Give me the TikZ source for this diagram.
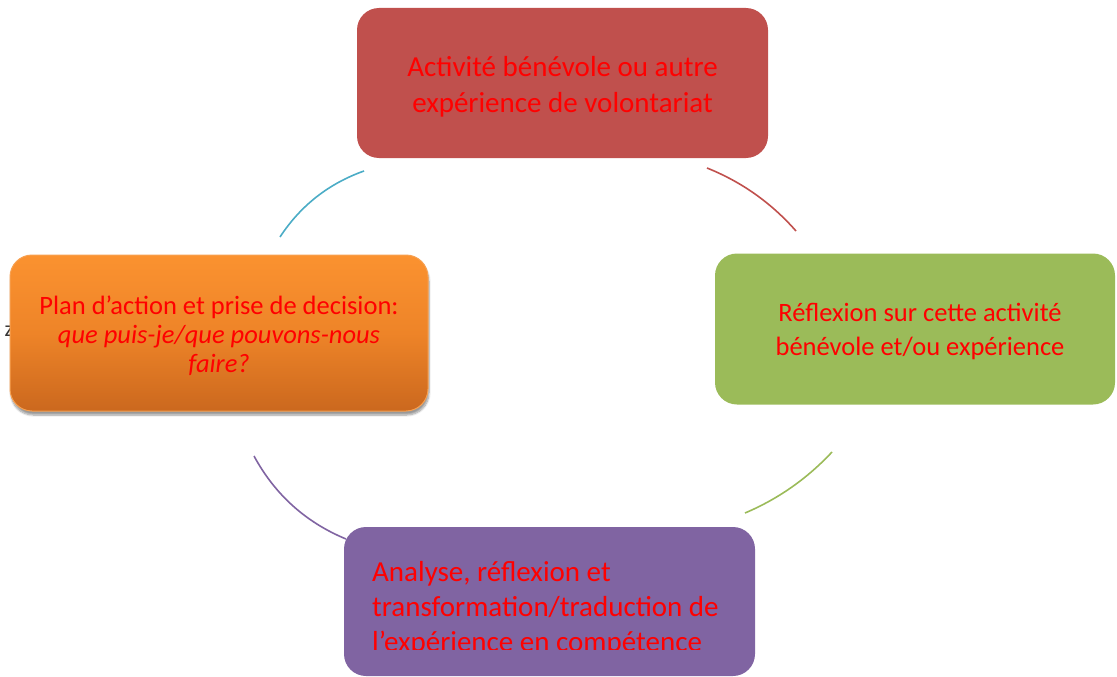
\documentclass[tikz,border=0pt]{standalone}
\usepackage{fontspec}
\setmainfont{Carlito}
\usetikzlibrary{shadows.blur}
\definecolor{txtred}{RGB}{255,0,0}
\definecolor{boxred}{RGB}{192,80,77}
\definecolor{boxgreen}{RGB}{155,187,89}
\definecolor{boxpurple}{RGB}{128,100,162}
\definecolor{arcteal}{RGB}{75,172,198}
\definecolor{orangetop}{RGB}{251,146,48}
\definecolor{orangemid}{RGB}{238,132,40}
\definecolor{orangebot}{RGB}{203,104,30}
\definecolor{orangeedge}{RGB}{247,160,80}
\begin{document}
\begin{tikzpicture}[x=1pt,y=-1pt,
  box/.style={rounded corners=22pt, inner sep=0pt},
  boxtext/.style={inner sep=0pt, text=txtred, align=center},
  arcline/.style={line width=1.6pt}]
\useasboundingbox (0,0) rectangle (1117,677);
% arc end points
\coordinate (t1) at (364,171); \coordinate (t2) at (280,237);
\coordinate (r1) at (707,168); \coordinate (r2) at (796,231);
\coordinate (g1) at (832,452); \coordinate (g2) at (745,513);
\coordinate (p1) at (254,456); \coordinate (p2) at (346,539);
\draw[arcline, arcteal] (t1) .. controls (328.6,183.6) and (300.6,205.6) .. (t2);
\draw[arcline, boxred] (r1) .. controls (741.7,181.9) and (771.3,202.9) .. (r2);
\draw[arcline, boxgreen] (g1) .. controls (807.3,478.5) and (778.3,498.9) .. (g2);
\draw[arcline, boxpurple] (p1) .. controls (274.9,494.5) and (305.5,522.2) .. (p2);
% stray letter behind the orange box
\node[text=black!80, font=\fontsize{22}{26}\selectfont, inner sep=0pt] (z) at (9,331) {z};
% boxes
\node[box, fill=boxred, minimum width=411pt, minimum height=150pt] (top) at (562.5,83) {};
\node[boxtext, font=\fontsize{29}{36}\selectfont] (toptext) at (562.5,87)
  {Activité bénévole ou autre\\expérience de volontariat};
\node[box, fill=boxgreen, minimum width=400pt, minimum height=151pt] (right) at (915,329) {};
\node[boxtext, font=\fontsize{26.5}{34}\selectfont] (righttext) at (920,331.5)
  {Réflexion sur cette activité\\bénévole et/ou expérience};
\node[box, top color=orangetop, bottom color=orangebot, middle color=orangemid,
  draw=orangeedge, line width=1pt, minimum width=418pt, minimum height=156pt,
  blur shadow={shadow xshift=1pt, shadow yshift=-4pt, shadow blur steps=8, shadow opacity=40}] (left) at (219,333) {};
\node[boxtext, font=\fontsize{26.5}{29}\selectfont] (lefttext) at (219,336)
  {Plan d’action et prise de decision:\\\itshape que puis-je/que pouvons-nous\\\itshape faire?};
\node[box, fill=boxpurple, minimum width=411pt, minimum height=149pt] (bottom) at (549.5,601.5) {};
\begin{scope}
\clip (344,527) rectangle (755,649);
\node[anchor=base west, inner sep=0pt, text=txtred, font=\fontsize{29}{35}\selectfont] (btext) at (372,581)
  {\parbox[t]{400pt}{\raggedright Analyse, réflexion et\\transformation/traduction de\\l’expérience en compétence}};
\end{scope}
\end{tikzpicture}
\end{document}
